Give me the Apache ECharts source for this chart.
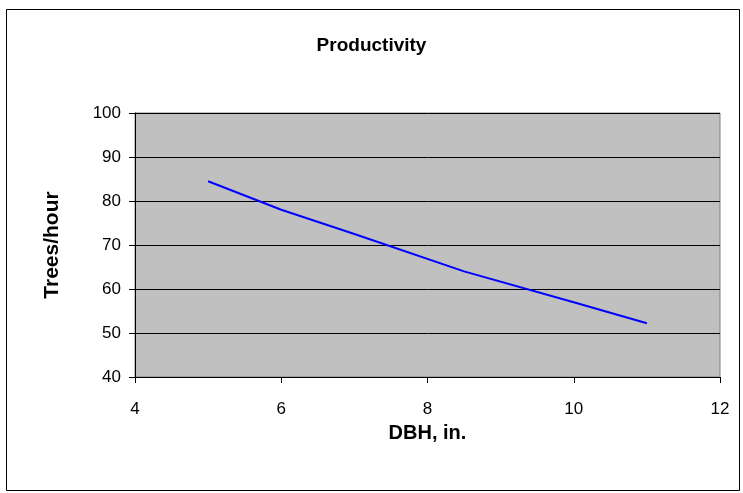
<!DOCTYPE html>
<html><head><meta charset="utf-8">
<script src="https://cdn.jsdelivr.net/npm/echarts@6/dist/echarts.min.js"></script>
<style>html,body{margin:0;padding:0;background:#fff}#c{width:743px;height:493px}</style>
</head><body><div id="c"></div>
<script>
const dbh = [5, 6, 7, 8.5, 10, 11];
const treesPerHour = [84.5, 78, 72.5, 64, 57, 52.2];
const chartTitle = 'Productivity';
const xName = 'DBH, in.';
const yName = 'Trees/hour';

const chart = echarts.init(document.getElementById('c'), null, {renderer: 'canvas'});
const font = 'Liberation Sans, Arial, sans-serif';
chart.setOption({
  animation: false,
  backgroundColor: '#fff',
  title: {text: chartTitle, left: 'center', top: 31, textStyle: {fontFamily: font, fontSize: 19, fontWeight: 'bold', color: '#000'}},
  graphic: [{type: 'rect', shape: {x: 6.5, y: 9.5, width: 733, height: 481}, style: {fill: 'none', stroke: '#000', lineWidth: 1}, z: -1}],
  grid: {left: 135, right: 23, top: 113, bottom: 116, show: true, backgroundColor: '#C0C0C0', borderColor: '#808080', borderWidth: 1},
  xAxis: {
    type: 'value', min: 4, max: 12, interval: 2,
    name: xName, nameLocation: 'middle', nameGap: 46,
    nameTextStyle: {fontFamily: font, fontSize: 20, fontWeight: 'bold', color: '#000'},
    axisLine: {lineStyle: {color: '#000', width: 1}},
    axisTick: {show: true, inside: false, length: 6, lineStyle: {color: '#000'}},
    axisLabel: {fontFamily: font, fontSize: 17, color: '#000', margin: 24},
    splitLine: {show: false}
  },
  yAxis: {
    type: 'value', min: 40, max: 100, interval: 10,
    name: yName, nameLocation: 'middle', nameGap: 72, nameRotate: 90,
    nameTextStyle: {fontFamily: font, fontSize: 21, fontWeight: 'bold', color: '#000'},
    axisLine: {show: true, lineStyle: {color: '#000', width: 1}},
    axisTick: {show: true, inside: false, length: 6, lineStyle: {color: '#000'}},
    axisLabel: {fontFamily: font, fontSize: 17, color: '#000', margin: 14},
    splitLine: {show: true, lineStyle: {color: '#000', width: 1}}
  },
  series: [{
    type: 'line', data: dbh.map((x, i) => [x, treesPerHour[i]]),
    showSymbol: false, symbol: 'none',
    lineStyle: {color: '#0000FF', width: 2}
  }]
});
</script></body></html>
